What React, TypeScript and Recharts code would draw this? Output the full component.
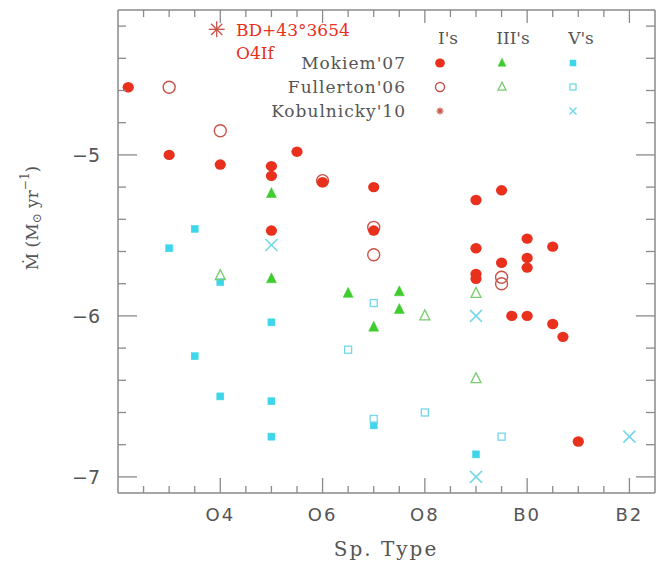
import React from 'react';
import { ScatterChart, Scatter, XAxis, YAxis } from 'recharts';

// spectral subtype on a numeric scale: O2=2 ... O9=9, B0=10, B1=11, B2=12
const mokiemI = [
  { sp: 2.2, mdot: -4.58 }, { sp: 3.0, mdot: -5.0 }, { sp: 4.0, mdot: -5.06 },
  { sp: 5.0, mdot: -5.07 }, { sp: 5.0, mdot: -5.13 }, { sp: 5.5, mdot: -4.98 },
  { sp: 6.0, mdot: -5.17 }, { sp: 7.0, mdot: -5.2 }, { sp: 5.0, mdot: -5.47 },
  { sp: 7.0, mdot: -5.47 }, { sp: 9.0, mdot: -5.28 }, { sp: 9.5, mdot: -5.22 },
  { sp: 10.0, mdot: -5.52 }, { sp: 10.5, mdot: -5.57 }, { sp: 9.0, mdot: -5.58 },
  { sp: 10.0, mdot: -5.64 }, { sp: 9.5, mdot: -5.67 }, { sp: 10.0, mdot: -5.7 },
  { sp: 9.0, mdot: -5.74 }, { sp: 9.0, mdot: -5.77 }, { sp: 9.7, mdot: -6.0 },
  { sp: 10.0, mdot: -6.0 }, { sp: 10.5, mdot: -6.05 }, { sp: 10.7, mdot: -6.13 },
  { sp: 11.0, mdot: -6.78 },
];
const fullertonI = [
  { sp: 3.0, mdot: -4.58 }, { sp: 4.0, mdot: -4.85 }, { sp: 6.0, mdot: -5.16 },
  { sp: 7.0, mdot: -5.45 }, { sp: 7.0, mdot: -5.62 }, { sp: 9.5, mdot: -5.76 },
  { sp: 9.5, mdot: -5.8 },
];
const kobulnickyI = [{ sp: 3.93, mdot: -4.22 }];

const mokiemIII = [
  { sp: 5.0, mdot: -5.24 }, { sp: 5.0, mdot: -5.77 }, { sp: 6.5, mdot: -5.86 },
  { sp: 7.5, mdot: -5.85 }, { sp: 7.5, mdot: -5.96 }, { sp: 7.0, mdot: -6.07 },
];
const fullertonIII = [
  { sp: 4.0, mdot: -5.75 }, { sp: 8.0, mdot: -6.0 }, { sp: 9.0, mdot: -5.86 },
  { sp: 9.0, mdot: -6.39 },
];

const mokiemV = [
  { sp: 3.0, mdot: -5.58 }, { sp: 3.5, mdot: -5.46 }, { sp: 4.0, mdot: -5.79 },
  { sp: 5.0, mdot: -6.04 }, { sp: 3.5, mdot: -6.25 }, { sp: 4.0, mdot: -6.5 },
  { sp: 5.0, mdot: -6.53 }, { sp: 5.0, mdot: -6.75 }, { sp: 7.0, mdot: -6.68 },
  { sp: 9.0, mdot: -6.86 },
];
const fullertonV = [
  { sp: 7.0, mdot: -5.92 }, { sp: 6.5, mdot: -6.21 }, { sp: 7.0, mdot: -6.64 },
  { sp: 8.0, mdot: -6.6 }, { sp: 9.5, mdot: -6.75 },
];
const kobulnickyV = [
  { sp: 5.0, mdot: -5.56 }, { sp: 9.0, mdot: -6.0 }, { sp: 9.0, mdot: -7.0 },
  { sp: 12.0, mdot: -6.75 },
];

const xTicks = [2.5, 3, 3.5, 4, 4.5, 5, 5.5, 6, 6.5, 7, 7.5, 8, 8.5, 9, 9.5, 10, 10.5, 11, 11.5, 12];
const xMajor = [4, 6, 8, 10, 12];
const xMajorLabels = ['O4', 'O6', 'O8', 'B0', 'B2'];
const yTicks = [-7, -6.8, -6.6, -6.4, -6.2, -6, -5.8, -5.6, -5.4, -5.2, -5, -4.8, -4.6, -4.4, -4.2];

const RED = '#e8301c';
const RED_OPEN = '#c95248';
const GREEN = '#3fcc2e';
const GREEN_OPEN = '#78cc6e';
const CYAN = '#3ed6ea';
const CYAN_OPEN = '#72d8e6';
const AXIS = '#8a8a8a';
const TEXT = '#555';
const SERIF = '"DejaVu Serif", "Liberation Serif", serif';
const SANS = '"DejaVu Sans", sans-serif';

const isMajorY = (v: number) => Math.abs(v - Math.round(v)) < 1e-6;

const BottomTick = ({ x, y, payload }: any) => {
  const i = xMajor.indexOf(payload.value);
  return (
    <g>
      <line x1={x} x2={x} y1={y} y2={y - (i >= 0 ? 15 : 7)} stroke={AXIS} strokeWidth={1.3} />
      {i >= 0 && (
        <text x={x} y={y + 28} textAnchor="middle" fontFamily={SANS} fontSize={18}
          letterSpacing={2} fill={TEXT}>{xMajorLabels[i]}</text>
      )}
    </g>
  );
};
const TopTick = ({ x, y, payload }: any) => {
  const major = xMajor.includes(payload.value);
  return <line x1={x} x2={x} y1={y} y2={y + (major ? 13 : 7)} stroke={AXIS} strokeWidth={1.3} />;
};
const LeftTick = ({ x, y, payload }: any) => {
  const major = isMajorY(payload.value);
  return (
    <g>
      <line x1={x} x2={x + (major ? 19 : 8)} y1={y} y2={y} stroke={AXIS} strokeWidth={1.3} />
      {major && (
        <text x={x - 18} y={y} textAnchor="end" dominantBaseline="central" fontFamily={SANS}
          fontSize={19} fill={TEXT}>{'\u2212' + Math.abs(Math.round(payload.value))}</text>
      )}
    </g>
  );
};
const RightTick = ({ x, y, payload }: any) => {
  const major = isMajorY(payload.value);
  return <line x1={x} x2={x - (major ? 19 : 9)} y1={y} y2={y} stroke={AXIS} strokeWidth={1.3} />;
};

// marker shapes
const dot = (r: number, fill: string) => (p: any) => <ellipse cx={p.cx} cy={p.cy} rx={r * 1.08} ry={r} fill={fill} />;
const ring = (r: number, stroke: string) => (p: any) =>
  <circle cx={p.cx} cy={p.cy} r={r} fill="none" stroke={stroke} strokeWidth={1.4} />;
const tri = (s: number, color: string, filled: boolean) => (p: any) => (
  <polygon
    points={`${p.cx},${p.cy - s * 0.6} ${p.cx - s / 2},${p.cy + s * 0.4} ${p.cx + s / 2},${p.cy + s * 0.4}`}
    fill={filled ? color : 'none'} stroke={color} strokeWidth={filled ? 0.5 : 1.3}
  />
);
const sq = (s: number, color: string, filled: boolean) => (p: any) => (
  <rect x={p.cx - s / 2} y={p.cy - s / 2} width={s} height={s}
    fill={filled ? color : 'none'} stroke={color} strokeWidth={filled ? 0.5 : 1.3} />
);
const cross = (s: number, color: string) => (p: any) => (
  <g stroke={color} strokeWidth={1.5}>
    <line x1={p.cx - s} y1={p.cy - s} x2={p.cx + s} y2={p.cy + s} />
    <line x1={p.cx - s} y1={p.cy + s} x2={p.cx + s} y2={p.cy - s} />
  </g>
);
const star = (s: number, color: string) => (p: any) => (
  <g stroke={color} strokeWidth={1.3}>
    <line x1={p.cx - s} y1={p.cy} x2={p.cx + s} y2={p.cy} />
    <line x1={p.cx} y1={p.cy - s} x2={p.cx} y2={p.cy + s} />
    <line x1={p.cx - s * 0.7} y1={p.cy - s * 0.7} x2={p.cx + s * 0.7} y2={p.cy + s * 0.7} />
    <line x1={p.cx - s * 0.7} y1={p.cy + s * 0.7} x2={p.cx + s * 0.7} y2={p.cy - s * 0.7} />
  </g>
);
const nothing = () => <g />;

const legendRows = [
  { name: "Mokiem'07", y: 63 },
  { name: "Fullerton'06", y: 87 },
  { name: "Kobulnicky'10", y: 111 },
];

const Overlay = () => (
  <svg width={661} height={565} style={{ position: 'absolute', left: 0, top: 0, pointerEvents: 'none' }}>
    <text transform="translate(32,218) rotate(-90)" textAnchor="middle" dominantBaseline="central"
      fontFamily={SERIF} fontSize={17} fill={TEXT}>
      {'M\u0307 (M'}
      <tspan fontSize={12} dy={5}>{'\u2299'}</tspan>
      <tspan dy={-5}>{' yr'}</tspan>
      <tspan fontSize={12} dy={-7}>{'\u22121'}</tspan>
      <tspan dy={7}>)</tspan>
    </text>
    <text x={386} y={556} textAnchor="middle" fontFamily={SERIF} fontSize={20} letterSpacing={2}
      fill={TEXT}>Sp. Type</text>

    <text x={236} y={36} fontFamily={SERIF} fontSize={17} fill={RED}>BD+43°3654</text>
    <text x={236} y={59} fontFamily={SERIF} fontSize={17} fill={RED}>O4If</text>

    <text x={448} y={44} textAnchor="middle" fontFamily={SERIF} fontSize={17} fill={TEXT}>I's</text>
    <text x={513} y={44} textAnchor="middle" fontFamily={SERIF} fontSize={17} fill={TEXT}>III's</text>
    <text x={581} y={44} textAnchor="middle" fontFamily={SERIF} fontSize={17} fill={TEXT}>V's</text>
    {legendRows.map((r) => (
      <text key={r.name} x={406} y={r.y} textAnchor="end" dominantBaseline="central" fontFamily={SERIF}
        fontSize={17} letterSpacing={1} fill={TEXT}>{r.name}</text>
    ))}
    {dot(4.5, RED)({ cx: 440, cy: 63 })}
    {tri(8, GREEN, true)({ cx: 502, cy: 63 })}
    {sq(6, CYAN, true)({ cx: 573, cy: 63 })}
    {ring(4.5, RED_OPEN)({ cx: 440, cy: 87 })}
    {tri(8, GREEN_OPEN, false)({ cx: 502, cy: 87 })}
    {sq(6, CYAN_OPEN, false)({ cx: 573, cy: 87 })}
    {star(3.5, RED_OPEN)({ cx: 440, cy: 111 })}
    {cross(3.5, CYAN_OPEN)({ cx: 573, cy: 111 })}
  </svg>
);

const App: React.FC = () => (
  <div style={{ position: 'absolute', left: 0, top: 0, width: 661, height: 565, background: '#fff' }}>
    <ScatterChart width={661} height={565} margin={{ top: 9, right: 5, left: 0, bottom: 0 }}>
      <XAxis xAxisId="bottom" orientation="bottom" dataKey="sp" type="number" domain={[2, 12.5]}
        ticks={xTicks} interval={0} allowDataOverflow height={72} tickSize={0} tickMargin={0}
        tickLine={false} tick={<BottomTick />} axisLine={{ stroke: AXIS, strokeWidth: 1.5 }} />
      <XAxis xAxisId="top" orientation="top" dataKey="sp" type="number" domain={[2, 12.5]} ticks={xTicks}
        interval={0} allowDataOverflow height={1} tickSize={0} tickMargin={0} tickLine={false}
        tick={<TopTick />} axisLine={{ stroke: AXIS, strokeWidth: 1.5 }} />
      <YAxis yAxisId="left" orientation="left" dataKey="mdot" type="number" domain={[-7.1, -4.1]}
        ticks={yTicks} interval={0} allowDataOverflow width={118} tickSize={0} tickMargin={0}
        tickLine={false} tick={<LeftTick />} axisLine={{ stroke: AXIS, strokeWidth: 1.5 }} />
      <YAxis yAxisId="right" orientation="right" dataKey="mdot" type="number" domain={[-7.1, -4.1]}
        ticks={yTicks} interval={0} allowDataOverflow width={1} tickSize={0} tickMargin={0}
        tickLine={false} tick={<RightTick />} axisLine={{ stroke: AXIS, strokeWidth: 1.5 }} />

      {/* invisible series so the mirrored frame axes get drawn */}
      <Scatter data={kobulnickyV} xAxisId="top" yAxisId="right" shape={nothing} isAnimationActive={false} />

      <Scatter data={mokiemV} xAxisId="bottom" yAxisId="left" shape={sq(7, CYAN, true)} isAnimationActive={false} />
      <Scatter data={fullertonV} xAxisId="bottom" yAxisId="left" shape={sq(7, CYAN_OPEN, false)} isAnimationActive={false} />
      <Scatter data={kobulnickyV} xAxisId="bottom" yAxisId="left" shape={cross(6, CYAN_OPEN)} isAnimationActive={false} />
      <Scatter data={mokiemIII} xAxisId="bottom" yAxisId="left" shape={tri(10, GREEN, true)} isAnimationActive={false} />
      <Scatter data={fullertonIII} xAxisId="bottom" yAxisId="left" shape={tri(10, GREEN_OPEN, false)} isAnimationActive={false} />
      <Scatter data={fullertonI} xAxisId="bottom" yAxisId="left" shape={ring(6, RED_OPEN)} isAnimationActive={false} />
      <Scatter data={mokiemI} xAxisId="bottom" yAxisId="left" shape={dot(5.2, RED)} isAnimationActive={false} />
      <Scatter data={kobulnickyI} xAxisId="bottom" yAxisId="left" shape={star(8, RED_OPEN)} isAnimationActive={false} />
    </ScatterChart>
    <Overlay />
  </div>
);

export default App;
